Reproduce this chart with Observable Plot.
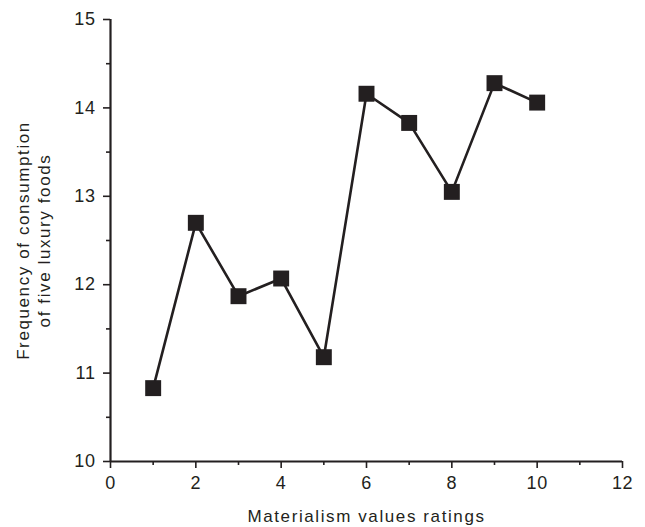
<!DOCTYPE html>
<html>
<head>
<meta charset="utf-8">
<script src="https://cdn.jsdelivr.net/npm/d3@7"></script>
<script src="https://cdn.jsdelivr.net/npm/@observablehq/plot@0.6"></script>
<style>
  html, body { margin: 0; padding: 0; background: white; }
  #chart svg text { font-size: 17px !important; font-family: 'Liberation Sans', Arial, sans-serif !important; }
  #chart svg text.lbl { letter-spacing: 1.6px; }
  #chart svg text.tk { letter-spacing: 0.6px; font-size: 18px !important; }
</style>
</head>
<body>
<div id="chart"></div>
<script>
const ratings = [1, 2, 3, 4, 5, 6, 7, 8, 9, 10];
const frequency = [10.83, 12.70, 11.87, 12.07, 11.18, 14.16, 13.83, 13.05, 14.28, 14.06];
const xMajorTicks = [0, 2, 4, 6, 8, 10, 12];
const xMinorTicks = [1, 3, 5, 7, 9, 11];
const yMajorTicks = [10, 11, 12, 13, 14, 15];
const yMinorTicks = [10.5, 11.5, 12.5, 13.5, 14.5];
const xLabel = "Materialism values ratings";
const yLabelLines = ["Frequency of consumption", "of five luxury foods"];

const data = ratings.map((r, i) => ({x: r, y: frequency[i]}));
const ink = "#231f20";

const chart = Plot.plot({
  width: 645,
  height: 527,
  marginLeft: 110,
  marginRight: 23,
  marginTop: 19,
  marginBottom: 66,
  x: {domain: [0, 12]},
  y: {domain: [10, 15]},
  style: {fontFamily: "'Liberation Sans', Arial, sans-serif", fontSize: "17px", color: ink, background: "white"},
  marks: [
    Plot.axisX(xMajorTicks, {tickSize: 7, tickPadding: 8, strokeWidth: 1.6, label: null, tickFormat: d => String(d)}),
    Plot.axisX(xMinorTicks, {tickSize: 4, strokeWidth: 1.6, tickFormat: () => "", label: null}),
    Plot.axisY(yMajorTicks, {tickSize: 7, tickPadding: 8, strokeWidth: 1.6, label: null, tickFormat: d => String(d)}),
    Plot.axisY(yMinorTicks, {tickSize: 4, strokeWidth: 1.6, tickFormat: () => "", label: null}),
    Plot.ruleY([10], {stroke: ink, strokeWidth: 2.2}),
    Plot.ruleX([0], {stroke: ink, strokeWidth: 2.2}),
    Plot.line(data, {x: "x", y: "y", stroke: ink, strokeWidth: 2.6}),
    Plot.dot(data, {x: "x", y: "y", symbol: "square", r: 9, fill: ink, stroke: "none"}),
    Plot.text([xLabel], {frameAnchor: "bottom", dy: 55, text: d => d, fill: ink, textAnchor: "middle", lineAnchor: "middle"}),
    Plot.text([yLabelLines[0]], {frameAnchor: "left", dx: -87, rotate: -90, text: d => d, fill: ink, textAnchor: "middle", lineAnchor: "middle"}),
    Plot.text([yLabelLines[1]], {frameAnchor: "left", dx: -66, rotate: -90, text: d => d, fill: ink, textAnchor: "middle", lineAnchor: "middle"})
  ]
});

d3.select(chart).selectAll('g[aria-label="text"] text').classed("lbl", true);
d3.select(chart).selectAll('g[aria-label$="tick label"] text').classed("tk", true);
document.getElementById("chart").appendChild(chart);
</script>
</body>
</html>
